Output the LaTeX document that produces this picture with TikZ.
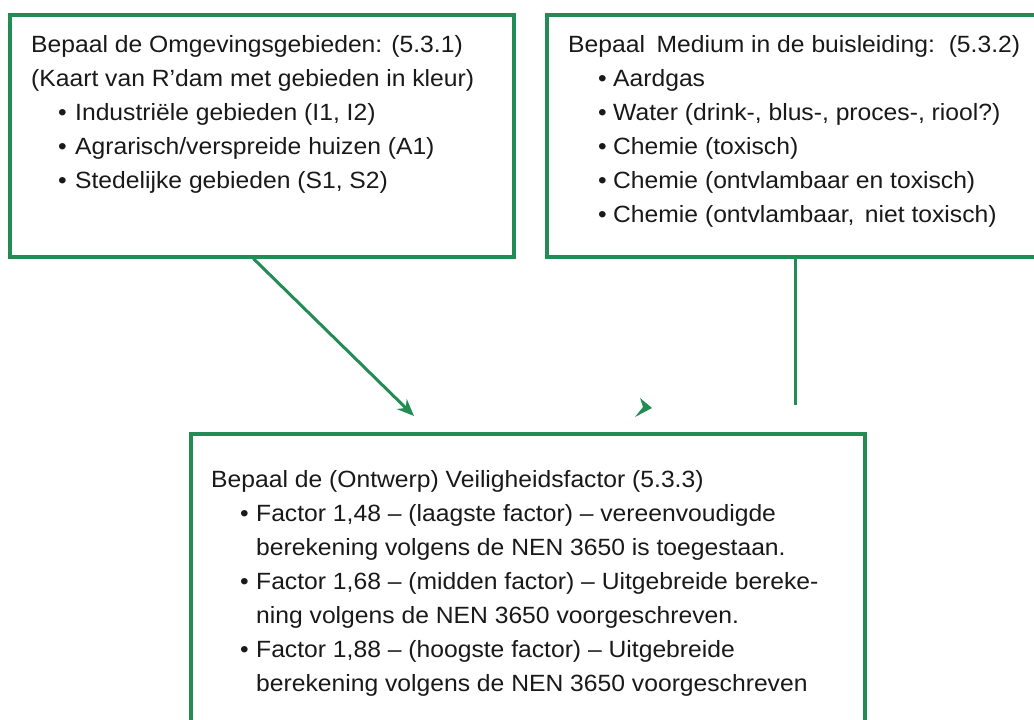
\documentclass[tikz,border=0pt]{standalone}
\usepackage{fontspec}
\setmainfont[FakeStretch=1.05]{Liberation Sans}
\usetikzlibrary{arrows.meta,calc}
\definecolor{boxgreen}{RGB}{35,140,85}
\definecolor{txt}{RGB}{25,25,25}
\newcommand{\bitem}[2]{\hspace*{#1}\makebox[#2][l]{\textbullet}}
\begin{document}
\begin{tikzpicture}[x=1pt,y=-1pt,
  box/.style={draw=boxgreen,line width=3.2pt,rectangle,inner sep=0pt},
  txtblock/.style={anchor=north west,inner sep=0pt,align=left,text=txt,
    font={\fontsize{23.5}{34}\selectfont}},
  conn/.style={draw=boxgreen,line width=3pt},
]
\useasboundingbox (0,0) rectangle (1034,720);
\clip (0,0) rectangle (1034,720);
\fill[white] (0,0) rectangle (1034,720);

% boxes
\node[box,minimum width=504pt,minimum height=242pt] (box1) at (262,136) {};
\node[box,minimum width=498pt,minimum height=242pt] (box2) at (796,136) {};
\node[box,minimum width=674pt,minimum height=306pt] (box3) at (528,587) {};

% texts
\node[txtblock] (t1) at (31,32) {\rule{0pt}{20pt}Bepaal de Omgevingsgebieden: (5.3.1)\\
(Kaart van R’dam met gebieden in kleur)\\
\bitem{27pt}{17pt}Industriële gebieden (I1, I2)\\
\bitem{27pt}{17pt}Agrarisch/verspreide huizen (A1)\\
\bitem{27pt}{17pt}Stedelijke gebieden (S1, S2)};

\node[txtblock] (t2) at (568,32) {\rule{0pt}{20pt}Bepaal\hspace{0.2em} Medium in de buisleiding:\hspace{0.2em} (5.3.2)\\
\bitem{30pt}{15pt}Aardgas\\
\bitem{30pt}{15pt}Water (drink-, blus-, proces-, riool?)\\
\bitem{30pt}{15pt}Chemie (toxisch)\\
\bitem{30pt}{15pt}Chemie (ontvlambaar en toxisch)\\
\bitem{30pt}{15pt}Chemie (ontvlambaar,\hspace{0.15em} niet toxisch)};

\node[txtblock] (t3) at (211,467) {\rule{0pt}{20pt}Bepaal de (Ontwerp) Veiligheidsfactor (5.3.3)\\
\bitem{29pt}{16pt}Factor 1,48 – (laagste factor) – vereenvoudigde\\
\hspace*{45pt}berekening volgens de NEN 3650 is toegestaan.\\
\bitem{29pt}{16pt}Factor 1,68 – (midden factor) – Uitgebreide bereke-\\
\hspace*{45pt}ning volgens de NEN 3650 voorgeschreven.\\
\bitem{29pt}{16pt}Factor 1,88 – (hoogste factor) – Uitgebreide\\
\hspace*{45pt}berekening volgens de NEN 3650 voorgeschreven};

% connectors
\coordinate (a1end) at (414,416);
\draw[conn,-{Stealth[length=17pt,width=14pt]}] ($(box1.south west)+(245,0)$) -- (a1end);

\coordinate (l2end) at (795,405);
\draw[conn] ($(box2.south)+(-1,0)$) -- (l2end);

\coordinate (tip2) at (652,408);
\fill[boxgreen] (tip2) -- ++(-12,-10) -- ++(3,9) -- ++(-8,10) -- cycle;
\end{tikzpicture}
\end{document}
